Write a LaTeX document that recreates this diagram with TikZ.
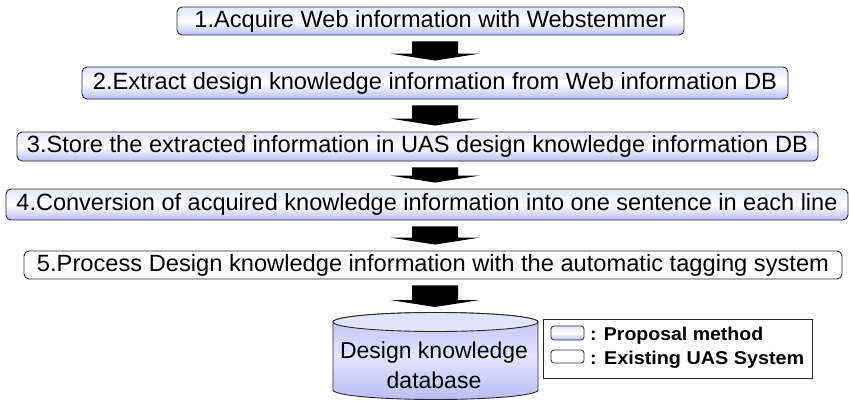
\documentclass[tikz,border=0pt]{standalone}
\usepackage{fontspec}
\setmainfont{Liberation Sans}
\usetikzlibrary{calc}
\definecolor{lav}{RGB}{188,188,245}
\definecolor{lavl}{RGB}{228,228,253}
\definecolor{edge}{RGB}{40,40,40}
\tikzset{
  stepbox/.style={draw=edge, line width=0.9pt, rounded corners=5pt, inner sep=0pt,
    font=\fontsize{23.5}{26}\selectfont},
  propfill/.style={top color=lavl, bottom color=lav, middle color=white},
  plainfill/.style={fill=white},
  arrowfill/.style={fill=black},
  legtext/.style={anchor=base west, inner sep=0pt, font=\bfseries\fontsize{18.5}{20}\selectfont},
}
\newcommand\blockarrow[2]{%
  \fill[arrowfill] let \p1=(#1.south), \p2=(#2.north) in
    (412pt,\y1-6pt) -- (458pt,\y1-6pt) -- (458pt,\y2+13pt) -- (480pt,\y2+13pt)
    -- (435pt,\y2+6pt) -- (390pt,\y2+13pt) -- (412pt,\y2+13pt) -- cycle;}
\begin{document}
\begin{tikzpicture}[x=1pt,y=1pt]
\useasboundingbox[fill=white] (0,0) rectangle (850,400);

\node[stepbox, propfill, minimum width=507pt, minimum height=28pt] (s1) at (430.5,379)
  {\resizebox{472pt}{\height}{1.Acquire Web information with Webstemmer}};
\node[stepbox, propfill, minimum width=706pt, minimum height=32pt] (s2) at (435,317)
  {\resizebox{684pt}{\height}{2.Extract design knowledge information from Web information DB}};
\node[stepbox, propfill, minimum width=801pt, minimum height=29pt] (s3) at (417.5,253.5)
  {\resizebox{781pt}{\height}{3.Store the extracted information in UAS design knowledge information DB}};
\node[stepbox, propfill, minimum width=842pt, minimum height=31pt] (s4) at (427,195.5)
  {\resizebox{821pt}{\height}{4.Conversion of acquired knowledge information into one sentence in each line}};
\node[stepbox, plainfill, minimum width=818pt, minimum height=28pt] (s5) at (433,135)
  {\resizebox{792pt}{\height}{5.Process Design knowledge information with the automatic tagging system}};

% database cylinder
\draw[draw=edge, line width=0.9pt, top color=lav, bottom color=lav, middle color=lavl]
  (333,78) -- (333,10) arc[start angle=180, end angle=360, x radius=102.5, y radius=9.5]
  -- (538,78) arc[start angle=0, end angle=180, x radius=102.5, y radius=9.5] -- cycle;
\draw[draw=edge, line width=0.9pt, fill=lavl] (435.5,78) ellipse[x radius=102.5, y radius=9.5];
\coordinate (dbtop) at (435,87);
\node[align=center, inner sep=0pt, font=\fontsize{23}{30}\selectfont] (db) at (434,35)
  {Design knowledge\\database};

\blockarrow{s1}{s2}
\blockarrow{s2}{s3}
\blockarrow{s3}{s4}
\blockarrow{s4}{s5}
\blockarrow{s5}{dbtop}

% legend
\node[draw=edge, line width=0.9pt, minimum width=269pt, minimum height=59pt, inner sep=0pt] (leg) at (677.5,51.5) {};
\node[draw=edge, line width=0.8pt, rounded corners=3pt, propfill, minimum width=33pt, minimum height=14pt, inner sep=0pt] (sw1) at (567.5,67) {};
\node[draw=edge, line width=0.8pt, rounded corners=3pt, plainfill, minimum width=33pt, minimum height=13pt, inner sep=0pt] (sw2) at (567.5,43.5) {};
\node[legtext] (l1) at (590,60) {\resizebox{173pt}{\height}{: Proposal method}};
\node[legtext] (l2) at (590,36) {\resizebox{214pt}{\height}{: Existing UAS System}};
\end{tikzpicture}
\end{document}
